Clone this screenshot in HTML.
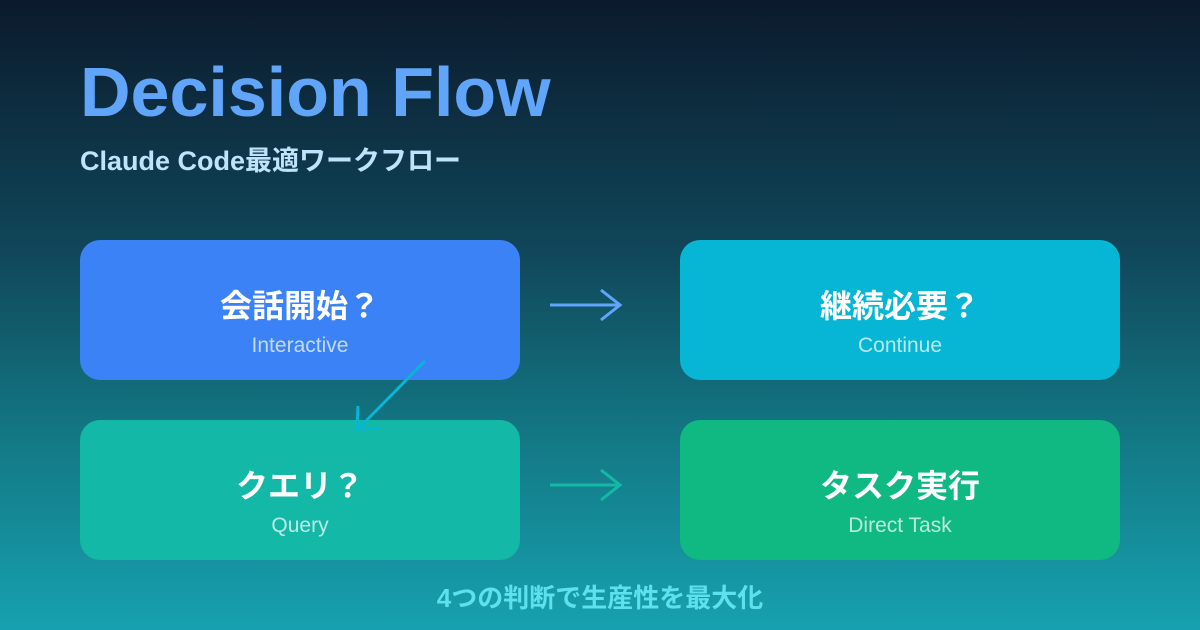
<!DOCTYPE html>
<html><head><meta charset="utf-8"><style>
body{margin:0;width:1200px;height:630px;overflow:hidden;font-family:"Liberation Sans","Noto Sans CJK JP",sans-serif;background:linear-gradient(180deg,#0b1a2c 0%,#10475a 40%,#137985 70%,#17a1b0 100%);position:relative}
.t{position:absolute;left:80px;top:52px;font-size:70px;font-weight:bold;color:#60a5fa}
.s{position:absolute;left:80px;top:139px;font-size:27px;font-weight:bold;color:#bfe3fb}
.b{position:absolute;width:440px;height:140px;border-radius:20px;text-align:center;color:#fff}
.b .m{position:absolute;left:0;right:0;top:41px;font-size:32px;font-weight:bold}
.b .n{position:absolute;left:0;right:0;top:94px;font-size:21px;color:rgba(255,255,255,.7)}
.f{position:absolute;left:0;right:0;top:578px;text-align:center;font-size:26px;font-weight:bold;color:#5ee0ee}
</style></head><body>
<div class="t">Decision Flow</div>
<div class="s">Claude Code最適ワークフロー</div>
<div class="b" style="left:80px;top:240px;background:#3b82f6"><div class="m">会話開始？</div><div class="n">Interactive</div></div>
<div class="b" style="left:680px;top:240px;background:#06b6d4"><div class="m">継続必要？</div><div class="n">Continue</div></div>
<div class="b" style="left:80px;top:420px;background:#14b8a6"><div class="m">クエリ？</div><div class="n">Query</div></div>
<div class="b" style="left:680px;top:420px;background:#10b981"><div class="m">タスク実行</div><div class="n">Direct Task</div></div>
<svg width="1200" height="630" style="position:absolute;left:0;top:0" fill="none" stroke-width="3">
<g stroke="#60a5fa"><path d="M550 305H620M601 290L620 305L601 320"/></g>
<g stroke="#14b8a6"><path d="M550 485H620M601 470L620 485L601 500"/></g>
<g stroke="#06b6d4"><path d="M425 361L358 429M358 406L357 429L380 428"/></g>
</svg>
<div class="f">4つの判断で生産性を最大化</div>
</body></html>
